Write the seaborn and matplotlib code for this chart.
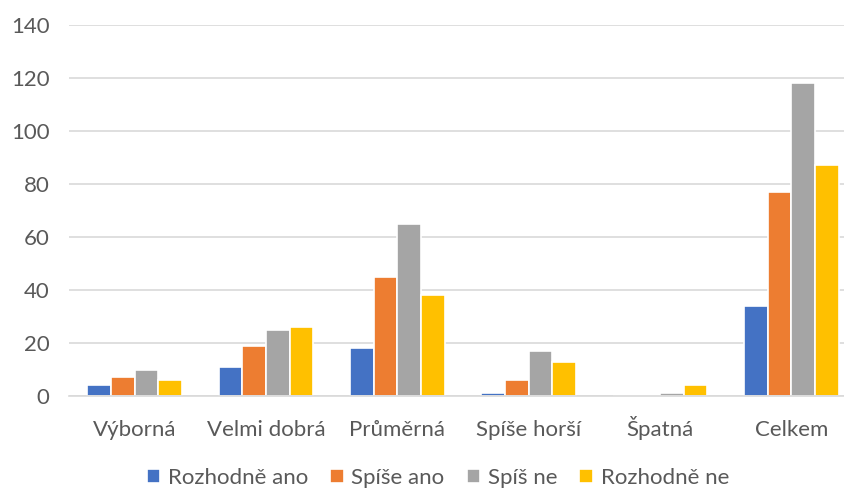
import pandas as pd
import seaborn as sns
import matplotlib.pyplot as plt

categories = ['Výborná', 'Velmi dobrá', 'Průměrná', 'Spíše horší', 'Špatná', 'Celkem']
series = ['Rozhodně ano', 'Spíše ano', 'Spíš ne', 'Rozhodně ne']
rozhodne_ano = [4, 11, 18, 1, 0, 34]
spise_ano = [7, 19, 45, 6, 0, 77]
spis_ne = [10, 25, 65, 17, 1, 118]
rozhodne_ne = [6, 26, 38, 13, 4, 87]
colors = ['#4472C4', '#ED7D31', '#A5A5A5', '#FFC000']

rows = []
for name, vals in zip(series, [rozhodne_ano, spise_ano, spis_ne, rozhodne_ne]):
    for cat, v in zip(categories, vals):
        rows.append({'kategorie': cat, 'odpoved': name, 'pocet': v})
df = pd.DataFrame(rows)

sns.set_style('white')
plt.rcParams['font.family'] = ['Lato', 'DejaVu Sans']

fig = plt.figure(figsize=(8.45, 4.88), dpi=100)
# plot area runs slightly past the right edge of the picture
ax = fig.add_axes([69 / 845, 1 - 396 / 488, (857 - 69) / 845, (396 - 25) / 488])

sns.barplot(data=df, x='kategorie', y='pocet', hue='odpoved', order=categories,
            hue_order=series, palette=colors, width=0.72, ax=ax,
            edgecolor='white', linewidth=1.2, saturation=1, legend=True)

ax.set_ylim(0, 140)
ax.set_yticks(range(0, 141, 20))
ax.set_xlim(-0.5, len(categories) - 0.5)
ax.yaxis.grid(True, color='#D9D9D9', linewidth=1.2)
ax.set_axisbelow(True)
for s in ['top', 'right', 'left']:
    ax.spines[s].set_visible(False)
ax.spines['bottom'].set_color('#D9D9D9')
ax.spines['bottom'].set_linewidth(1.2)
ax.tick_params(axis='both', length=0, labelsize=16, labelcolor='#595959')
ax.tick_params(axis='x', pad=29)
ax.tick_params(axis='y', pad=14)
for lbl in ax.get_xticklabels():
    lbl.set_verticalalignment('baseline')
ax.set_xlabel('')
ax.set_ylabel('')

handles, labels = ax.get_legend_handles_labels()
ax.legend(handles, labels, loc='center', bbox_to_anchor=(0.468, -0.22), ncol=4,
          frameon=False, fontsize=16, labelcolor='#595959', handlelength=0.6,
          handleheight=0.6, handletextpad=0.35, columnspacing=1.0)

fig.savefig('out.png', dpi=100)
